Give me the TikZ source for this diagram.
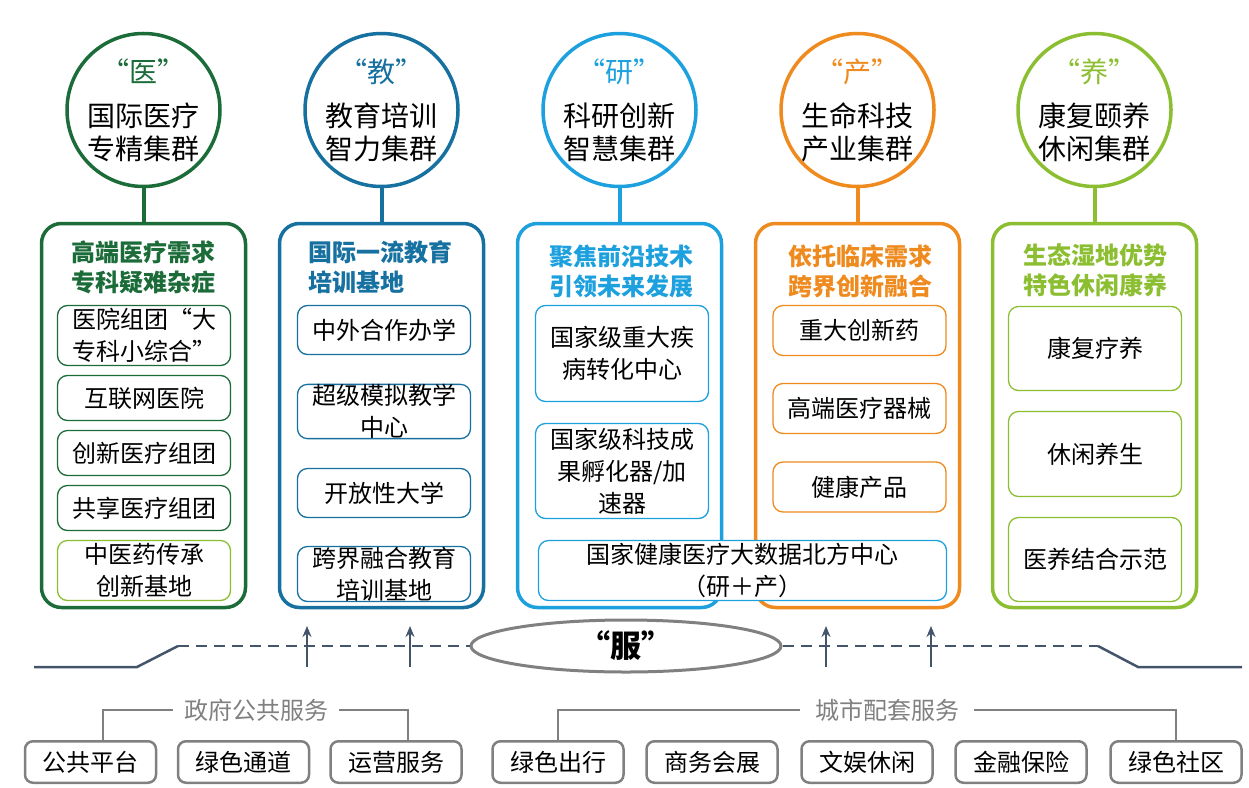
\documentclass[tikz,border=0pt]{standalone}
\usepackage{fontspec}
\setmainfont{Noto Sans CJK SC}
\usepackage{tikz}
\usetikzlibrary{arrows,arrows.meta,positioning,shapes.geometric}

\definecolor{yiC}{RGB}{28,108,58}
\definecolor{jiaoC}{RGB}{22,112,160}
\definecolor{yanC}{RGB}{28,160,222}
\definecolor{chanC}{RGB}{238,138,30}
\definecolor{yangC}{RGB}{140,190,50}
\definecolor{slate}{RGB}{68,84,106}
\definecolor{grayC}{RGB}{128,128,128}

\begin{document}
\begin{tikzpicture}[x=1pt, y=-1pt, >= {Stealth[length=11pt, width=9pt]}, semithick]
\tikzstyle{every node}=[inner sep=0pt, text=black]
\tikzstyle{hub}=[circle, line width=3.5pt, minimum size=153pt, align=center, font=\fontsize{28}{33}\selectfont]
\tikzstyle{frame}=[rounded corners=20pt, line width=3.5pt, minimum width=204pt, minimum height=384pt]
\tikzstyle{head}=[align=center, font=\fontsize{24}{30}\selectfont\bfseries]
\tikzstyle{item}=[rounded corners=10pt, line width=1.3pt, fill=white, minimum width=173pt, align=center, font=\fontsize{24}{32}\selectfont]
\tikzstyle{svc}=[draw=grayC, rounded corners=8pt, line width=2.5pt, minimum width=131pt, minimum height=41.5pt, font=\fontsize{24}{30}\selectfont]
\tikzstyle{link}=[line width=4pt]

\useasboundingbox (0,0) rectangle (1249,787);

% containers
\node[frame, draw=yiC]   (f1) at (143.5,415.5) {};
\node[frame, draw=jiaoC] (f2) at (381.5,415.5) {};
\node[frame, draw=yanC]  (f3) at (619.5,415.5) {};
\node[frame, draw=chanC] (f4) at (857.5,415.5) {};
\node[frame, draw=yangC] (f5) at (1094.5,415.5) {};

% circles
\node[hub, draw=yiC]   (h1) at (143.5,110) {{\color{yiC}“医”}\\[11pt]国际医疗\\专精集群};
\node[hub, draw=jiaoC] (h2) at (381.5,110) {{\color{jiaoC}“教”}\\[11pt]教育培训\\智力集群};
\node[hub, draw=yanC]  (h3) at (619.5,110) {{\color{yanC}“研”}\\[11pt]科研创新\\智慧集群};
\node[hub, draw=chanC] (h4) at (857.5,110) {{\color{chanC}“产”}\\[11pt]生命科技\\产业集群};
\node[hub, draw=yangC] (h5) at (1094.5,110) {{\color{yangC}“养”}\\[11pt]康复颐养\\休闲集群};

\draw[link, yiC]   (h1) -- (f1);
\draw[link, jiaoC] (h2) -- (f2);
\draw[link, yanC]  (h3) -- (f3);
\draw[link, chanC] (h4) -- (f4);
\draw[link, yangC] (h5) -- (f5);

% headings
\node[head, text=yiC]   (t1) at (143.5,267) {高端医疗需求\\专科疑难杂症};
\node[head, text=jiaoC, align=left, anchor=west] (t2) at (308,267) {国际一流教育\\培训基地};
\node[head, text=yanC]  (t3) at (621,271) {聚焦前沿技术\\引领未来发展};
\node[head, text=chanC] (t4) at (860,271) {依托临床需求\\跨界创新融合};
\node[head, text=yangC] (t5) at (1095,270) {生态湿地优势\\特色休闲康养};

% yi
\node[item, draw=yiC, minimum height=60pt] (y1) at (144,335.5) {医院组团“大\\专科小综合”};
\node[item, draw=yiC, minimum height=45pt] (y2) at (144,398) {互联网医院};
\node[item, draw=yiC, minimum height=45pt] (y3) at (144,453) {创新医疗组团};
\node[item, draw=yiC, minimum height=45pt] (y4) at (144,508) {共享医疗组团};
\node[item, draw=yangC, minimum height=60pt] (y5) at (144,570.5) {中医药传承\\创新基地};

% jiao
\node[item, draw=jiaoC, minimum height=49pt] (j1) at (384,330) {中外合作办学};
\node[item, draw=jiaoC, minimum height=54pt] (j2) at (384,411.5) {超级模拟教学\\中心};
\node[item, draw=jiaoC, minimum height=49pt] (j3) at (384,493) {开放性大学};
\node[item, draw=jiaoC, minimum height=55pt] (j4) at (384,574) {跨界融合教育\\培训基地};

% yan
\node[item, draw=yanC, minimum height=96pt] (r1) at (622,353.5) {国家级重大疾\\病转化中心};
\node[item, draw=yanC, minimum height=95pt] (r2) at (622,471) {国家级科技成\\果孵化器/加\\速器};

% chan
\node[item, draw=chanC, minimum height=50pt] (p1) at (859.5,330.5) {重大创新药};
\node[item, draw=chanC, minimum height=50pt] (p2) at (859.5,408.5) {高端医疗器械};
\node[item, draw=chanC, minimum height=50pt] (p3) at (859.5,487) {健康产品};

% yan + chan
\node[item, draw=yanC, minimum width=408pt, minimum height=60pt] (rp) at (742.5,570.5) {国家健康医疗大数据北方中心\\（研＋产）};

% yang
\node[item, draw=yangC, minimum height=84pt] (g1) at (1095,348.5) {康复疗养};
\node[item, draw=yangC, minimum height=85pt] (g2) at (1095,454) {休闲养生};
\node[item, draw=yangC, minimum height=84pt] (g3) at (1095,559.5) {医养结合示范};

% fu
\node[ellipse, draw=grayC, line width=3pt, minimum width=310pt, minimum height=52pt, font=\fontsize{31}{36}\selectfont\bfseries] (fu) at (626,646) {“服”};

\coordinate (l0) at (34,667);
\coordinate (l1) at (137,667);
\coordinate (l2) at (178,646);
\coordinate (r2) at (1098,646);
\coordinate (r1) at (1138,667);
\coordinate (r0) at (1242,667);

\draw[slate, line width=2.5pt] (l0) -- (l1) -- (l2);
\draw[slate, line width=2.5pt, dash pattern=on 11pt off 7pt] (l2) -- (fu);
\draw[slate, line width=2.5pt, dash pattern=on 11pt off 7pt] (fu) -- (r2);
\draw[slate, line width=2.5pt] (r2) -- (r1) -- (r0);

\coordinate (a1) at (307,667);  \coordinate (b1) at (307,626);
\coordinate (a2) at (410,667);  \coordinate (b2) at (410,626);
\coordinate (a3) at (826,667);  \coordinate (b3) at (826,626);
\coordinate (a4) at (931,667);  \coordinate (b4) at (931,626);
\draw[->, slate, line width=2pt] (a1) -- (b1);
\draw[->, slate, line width=2pt] (a2) -- (b2);
\draw[->, slate, line width=2pt] (a3) -- (b3);
\draw[->, slate, line width=2pt] (a4) -- (b4);

% services
\node[svc] (s1) at (90.5,762) {公共平台};
\node[svc] (s2) at (243.5,762) {绿色通道};
\node[svc] (s3) at (396,762) {运营服务};
\node[svc] (s4) at (558,762) {绿色出行};
\node[svc] (s5) at (712,762) {商务会展};
\node[svc] (s6) at (867,762) {文娱休闲};
\node[svc] (s7) at (1021,762) {金融保险};
\node[svc] (s8) at (1176,762) {绿色社区};

\node[text=grayC, inner xsep=11pt, font=\fontsize{24}{30}\selectfont] (gov) at (256,710) {政府公共服务};
\node[text=grayC, inner xsep=15pt, font=\fontsize{24}{30}\selectfont] (city) at (887,710) {城市配套服务};

\draw[grayC, line width=2pt] ([xshift=12pt]s1.north) |- (gov.west);
\draw[grayC, line width=2pt] ([xshift=12pt]s3.north) |- (gov.east);
\draw[grayC, line width=2pt] (s4.north) |- (city.west);
\draw[grayC, line width=2pt] (s8.north) |- (city.east);

\end{tikzpicture}
\end{document}
